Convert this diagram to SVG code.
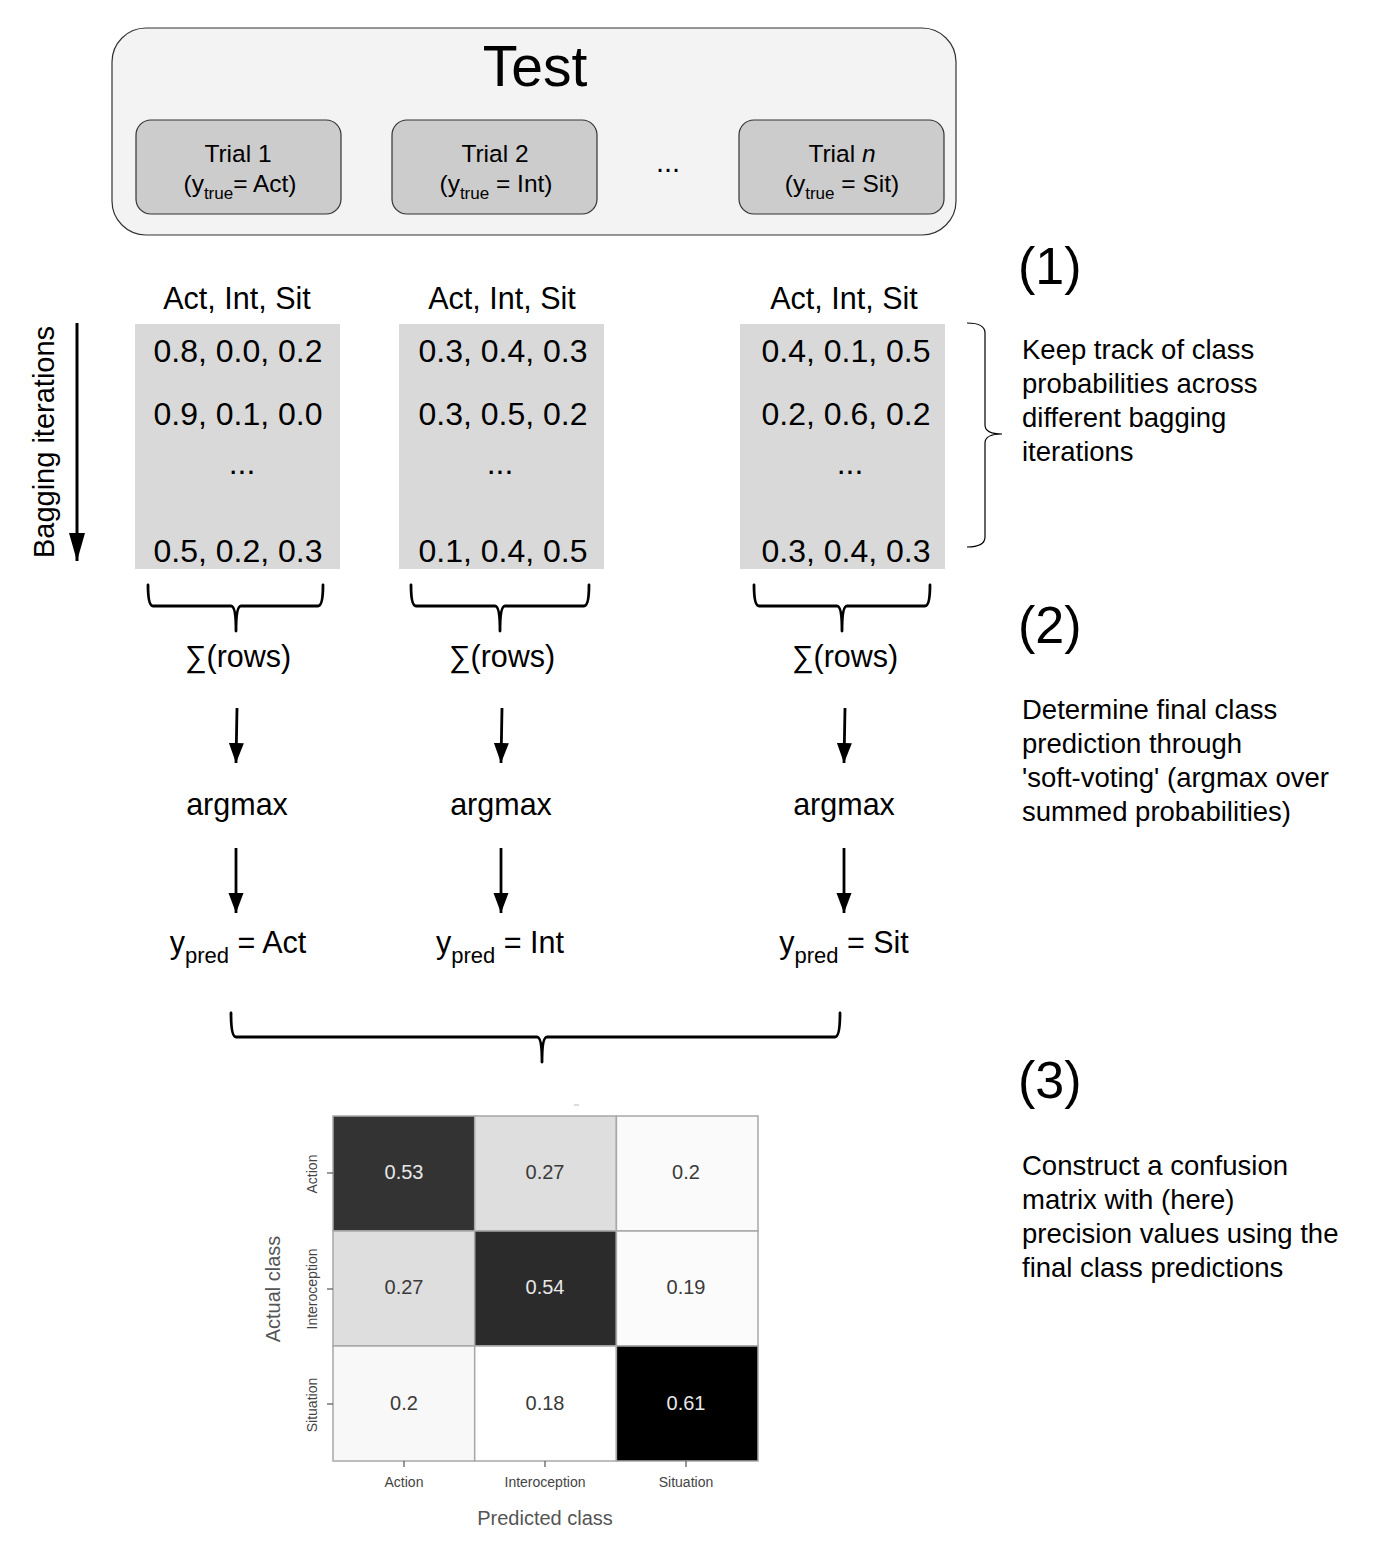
<svg xmlns="http://www.w3.org/2000/svg" width="1381" height="1561" viewBox="0 0 1381 1561">
<defs>
<style>
text{font-family:"Liberation Sans",Arial,sans-serif;fill:#000}
.big{font-size:57px}
.trial{font-size:24.5px;text-anchor:middle}
.sub{font-size:17px}
.hdr{font-size:30.5px;text-anchor:middle}
.row{font-size:32px;text-anchor:middle}
.op{font-size:30.5px;text-anchor:middle}
.num{font-size:52px}
.desc{font-size:27.5px}
.brace{fill:none;stroke:#000;stroke-width:2.8;stroke-linejoin:round;stroke-linecap:round}
.arr{fill:none;stroke:#000;stroke-width:2.8}
.cell{stroke:#a8a8a8;stroke-width:1.5}
.cv{font-size:20px;text-anchor:middle}
.lt{fill:#e8e8e8}
.dk{fill:#3a3a3a}
.tick{font-size:14px;text-anchor:middle;fill:#444}
.axl{font-size:20px;text-anchor:middle;fill:#555}
</style>
<marker id="ah" viewBox="0 0 20 16" refX="20" refY="8" markerWidth="20" markerHeight="16" markerUnits="userSpaceOnUse" orient="auto">
<path d="M0,0.5 L20,8 L0,15.5 z" fill="#000"/>
</marker>
<marker id="ahb" viewBox="0 0 28 16" refX="28" refY="8" markerWidth="28" markerHeight="16" markerUnits="userSpaceOnUse" orient="auto">
<path d="M0,0 L28,8 L0,16 z" fill="#000"/>
</marker>
</defs>
<rect width="1381" height="1561" fill="#fff"/>

<g id="test">
<rect x="112" y="28" width="844" height="207" rx="34" fill="#f3f3f3" stroke="#333" stroke-width="1.2"/>
<text class="big" x="535" y="86" text-anchor="middle">Test</text>
<text x="668" y="172" font-size="29" text-anchor="middle">...</text>
</g>
<g id="trial1">
<rect x="136" y="120" width="205" height="94" rx="15" fill="#cccccc" stroke="#333" stroke-width="1.2"/>
<text class="trial" x="238" y="162">Trial 1</text>
<text class="trial" x="240" y="192">(y<tspan class="sub" dy="7">true</tspan><tspan dy="-7">= Act)</tspan></text>
</g>
<g id="trial2">
<rect x="392" y="120" width="205" height="94" rx="15" fill="#cccccc" stroke="#333" stroke-width="1.2"/>
<text class="trial" x="495" y="162">Trial 2</text>
<text class="trial" x="496" y="192">(y<tspan class="sub" dy="7">true</tspan><tspan dy="-7"> = Int)</tspan></text>
</g>
<g id="trialn">
<rect x="739" y="120" width="205" height="94" rx="15" fill="#cccccc" stroke="#333" stroke-width="1.2"/>
<text class="trial" x="842" y="162">Trial <tspan font-style="italic">n</tspan></text>
<text class="trial" x="842" y="192">(y<tspan class="sub" dy="7">true</tspan><tspan dy="-7"> = Sit)</tspan></text>
</g>

<g id="col1">
<text class="hdr" x="237" y="309">Act, Int, Sit</text>
<rect x="135" y="324" width="205" height="245" fill="#d9d9d9"/>
<text class="row" x="238" y="362">0.8, 0.0, 0.2</text>
<text class="row" x="238" y="425">0.9, 0.1, 0.0</text>
<text class="row" x="242" y="474">...</text>
<text class="row" x="238" y="562">0.5, 0.2, 0.3</text>
<text class="op" x="238" y="667">∑(rows)</text>
<text class="op" x="237" y="815">argmax</text>
<text class="op" x="238" y="953">y<tspan font-size="22" dy="10">pred</tspan><tspan dy="-10"> = Act</tspan></text>
</g>
<g id="col2">
<text class="hdr" x="502" y="309">Act, Int, Sit</text>
<rect x="399" y="324" width="205" height="245" fill="#d9d9d9"/>
<text class="row" x="503" y="362">0.3, 0.4, 0.3</text>
<text class="row" x="503" y="425">0.3, 0.5, 0.2</text>
<text class="row" x="500" y="474">...</text>
<text class="row" x="503" y="562">0.1, 0.4, 0.5</text>
<text class="op" x="502" y="667">∑(rows)</text>
<text class="op" x="501" y="815">argmax</text>
<text class="op" x="500" y="953">y<tspan font-size="22" dy="10">pred</tspan><tspan dy="-10"> = Int</tspan></text>
</g>
<g id="col3">
<text class="hdr" x="844" y="309">Act, Int, Sit</text>
<rect x="740" y="324" width="205" height="245" fill="#d9d9d9"/>
<text class="row" x="846" y="362">0.4, 0.1, 0.5</text>
<text class="row" x="846" y="425">0.2, 0.6, 0.2</text>
<text class="row" x="850" y="474">...</text>
<text class="row" x="846" y="562">0.3, 0.4, 0.3</text>
<text class="op" x="845" y="667">∑(rows)</text>
<text class="op" x="844" y="815">argmax</text>
<text class="op" x="844" y="953">y<tspan font-size="22" dy="10">pred</tspan><tspan dy="-10"> = Sit</tspan></text>
</g>

<g id="bagging">
<line x1="77" y1="323" x2="77" y2="561" stroke="#000" stroke-width="3" marker-end="url(#ahb)"/>
<text x="54" y="442" font-size="29" text-anchor="middle" transform="rotate(-90 54 442)">Bagging iterations</text>
</g>

<g id="connectors">
<path class="brace" d="M148,585 Q148,606 153,606 L231,606 Q236,606 236,631 Q236,606 241,606 L318,606 Q323,606 323,585"/>
<path class="brace" d="M411,585 Q411,606 416,606 L495,606 Q500,606 500,631 Q500,606 505,606 L584,606 Q589,606 589,585"/>
<path class="brace" d="M754,585 Q754,606 759,606 L837,606 Q842,606 842,631 Q842,606 847,606 L925,606 Q930,606 930,585"/>
<path class="brace" d="M231,1013 Q231,1037 236,1037 L537,1037 Q542,1037 542,1062 Q542,1037 547,1037 L835,1037 Q840,1037 840,1013"/>
<path fill="none" stroke="#000" stroke-width="1.2" d="M967,323 Q985,323 985,333 L985,425 Q985,434 1002,434 Q985,434 985,443 L985,537 Q985,547 967,547"/>
<line class="arr" x1="237" y1="708" x2="236" y2="763" marker-end="url(#ah)"/>
<line class="arr" x1="236" y1="848" x2="236" y2="913" marker-end="url(#ah)"/>
<line class="arr" x1="502" y1="708" x2="501" y2="763" marker-end="url(#ah)"/>
<line class="arr" x1="501" y1="848" x2="501" y2="913" marker-end="url(#ah)"/>
<line class="arr" x1="845" y1="708" x2="844" y2="763" marker-end="url(#ah)"/>
<line class="arr" x1="844" y1="848" x2="844" y2="913" marker-end="url(#ah)"/>
</g>

<g id="step1">
<text class="num" x="1018" y="284">(1)</text>
<text class="desc" x="1022" y="359">Keep track of class</text>
<text class="desc" x="1022" y="393">probabilities across</text>
<text class="desc" x="1022" y="427">different bagging</text>
<text class="desc" x="1022" y="461">iterations</text>
</g>
<g id="step2">
<text class="num" x="1018" y="643">(2)</text>
<text class="desc" x="1022" y="719">Determine final class</text>
<text class="desc" x="1022" y="753">prediction through</text>
<text class="desc" x="1022" y="787">'soft-voting' (argmax over</text>
<text class="desc" x="1022" y="821">summed probabilities)</text>
</g>
<g id="step3">
<text class="num" x="1018" y="1098">(3)</text>
<text class="desc" x="1022" y="1175">Construct a confusion</text>
<text class="desc" x="1022" y="1209">matrix with (here)</text>
<text class="desc" x="1022" y="1243">precision values using the</text>
<text class="desc" x="1022" y="1277">final class predictions</text>
</g>

<g id="confusion-matrix">
<line x1="574" y1="1105" x2="579" y2="1105" stroke="#bbb" stroke-width="1"/>
<rect class="cell" x="333" y="1116" width="141.7" height="115" fill="#333333"/>
<rect class="cell" x="474.7" y="1116" width="141.7" height="115" fill="#dedede"/>
<rect class="cell" x="616.4" y="1116" width="141.6" height="115" fill="#fafafa"/>
<rect class="cell" x="333" y="1231" width="141.7" height="115" fill="#dedede"/>
<rect class="cell" x="474.7" y="1231" width="141.7" height="115" fill="#2b2b2b"/>
<rect class="cell" x="616.4" y="1231" width="141.6" height="115" fill="#fbfbfb"/>
<rect class="cell" x="333" y="1346" width="141.7" height="115" fill="#f8f8f8"/>
<rect class="cell" x="474.7" y="1346" width="141.7" height="115" fill="#ffffff"/>
<rect class="cell" x="616.4" y="1346" width="141.6" height="115" fill="#000000"/>
<text class="cv lt" x="404" y="1179">0.53</text>
<text class="cv dk" x="545" y="1179">0.27</text>
<text class="cv dk" x="686" y="1179">0.2</text>
<text class="cv dk" x="404" y="1294">0.27</text>
<text class="cv lt" x="545" y="1294">0.54</text>
<text class="cv dk" x="686" y="1294">0.19</text>
<text class="cv dk" x="404" y="1410">0.2</text>
<text class="cv dk" x="545" y="1410">0.18</text>
<text class="cv lt" x="686" y="1410">0.61</text>
<g stroke="#555" stroke-width="1.2">
<line x1="327" y1="1173" x2="333" y2="1173"/>
<line x1="327" y1="1289" x2="333" y2="1289"/>
<line x1="327" y1="1404" x2="333" y2="1404"/>
<line x1="404" y1="1461" x2="404" y2="1467"/>
<line x1="545" y1="1461" x2="545" y2="1467"/>
<line x1="686" y1="1461" x2="686" y2="1467"/>
</g>
<text class="tick" x="317" y="1174" transform="rotate(-90 317 1174)">Action</text>
<text class="tick" x="317" y="1289" transform="rotate(-90 317 1289)">Interoception</text>
<text class="tick" x="317" y="1405" transform="rotate(-90 317 1405)">Situation</text>
<text class="tick" x="404" y="1487">Action</text>
<text class="tick" x="545" y="1487">Interoception</text>
<text class="tick" x="686" y="1487">Situation</text>
<text class="axl" x="280" y="1289" transform="rotate(-90 280 1289)">Actual class</text>
<text class="axl" x="545" y="1525">Predicted class</text>
</g>
</svg>
